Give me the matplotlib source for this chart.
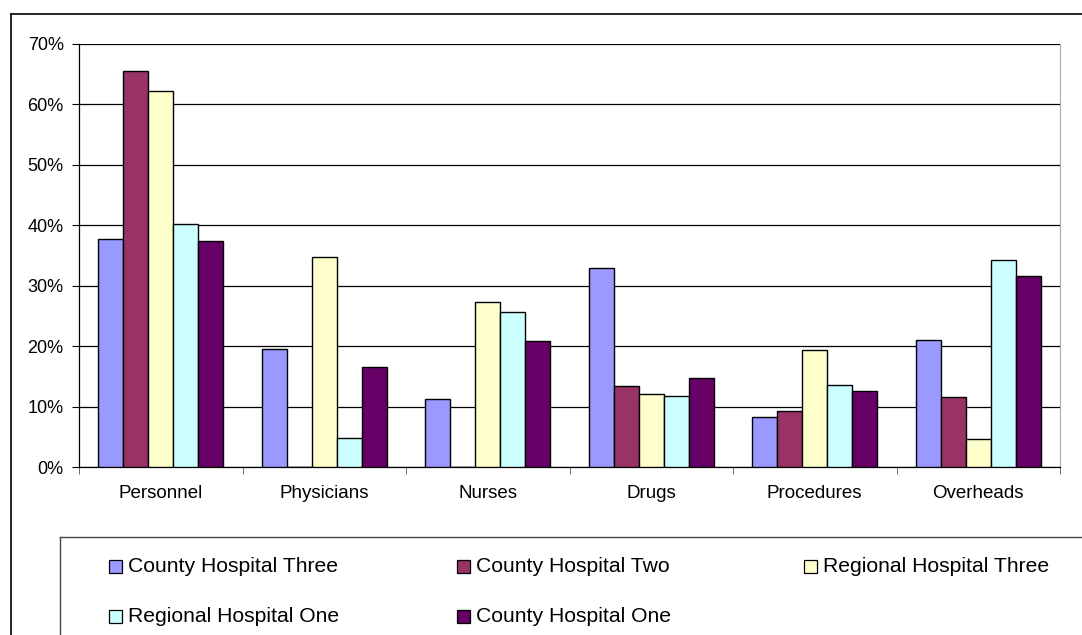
import matplotlib.pyplot as plt
import numpy as np
from matplotlib.patches import Rectangle
from matplotlib.lines import Line2D
from matplotlib.ticker import PercentFormatter

plt.rcParams['font.family'] = ['Liberation Sans', 'DejaVu Sans']

categories = ["Personnel", "Physicians", "Nurses", "Drugs", "Procedures", "Overheads"]
series_names = ["County Hospital Three", "County Hospital Two", "Regional Hospital Three",
                "Regional Hospital One", "County Hospital One"]
county_three = [37.7, 19.5, 11.3, 33.0, 8.3, 21.0]
county_two = [65.6, 0.0, 0.0, 13.4, 9.2, 11.6]
regional_three = [62.3, 34.7, 27.3, 12.0, 19.3, 4.6]
regional_one = [40.2, 4.8, 25.6, 11.7, 13.6, 34.2]
county_one = [37.4, 16.6, 20.8, 14.7, 12.5, 31.6]
series = [county_three, county_two, regional_three, regional_one, county_one]
colors = ["#9999FF", "#993366", "#FFFFCC", "#CCFFFF", "#660066"]

fig = plt.figure(figsize=(10.82, 6.35), dpi=100)
ax = fig.add_axes([79/1082, 1-467/635, (1060-79)/1082, (467-44)/635])

x = np.arange(len(categories))
w = 0.153
for i, (vals, col) in enumerate(zip(series, colors)):
    ax.bar(x + (i-2)*w, vals, width=w, color=col, edgecolor="black", linewidth=1.0, zorder=3)

ax.set_xlim(-0.5, len(categories)-0.5)
ax.set_ylim(0, 70)
ax.set_yticks(np.arange(0, 71, 10))
ax.yaxis.set_major_formatter(PercentFormatter(decimals=0))
ax.yaxis.grid(True, color="black", linewidth=0.9, zorder=0)
ax.set_xticks(x)
ax.set_xticklabels(categories, fontsize=13.5)
ax.set_xticks(np.arange(-0.5, len(categories)), minor=True)
ax.tick_params(axis="x", which="major", length=0, pad=13)
ax.tick_params(axis="x", which="minor", length=5, direction="out", color="#555555")
ax.tick_params(axis="y", length=5, direction="out", labelsize=13, pad=6)
ax.spines["top"].set_visible(False)
ax.spines["right"].set_color("#aaaaaa")
ax.spines["left"].set_linewidth(0.9)
ax.spines["bottom"].set_linewidth(0.9)

# outer chart border and legend box
fig.add_artist(Line2D([11/1082, 11/1082], [0, 1-14/635], color="black", lw=1.2))
fig.add_artist(Line2D([11/1082, 1], [1-14/635, 1-14/635], color="black", lw=1.2))
fig.add_artist(Line2D([60/1082, 60/1082], [0, 1-537/635], color="#444444", lw=1.0))
fig.add_artist(Line2D([60/1082, 1], [1-537/635, 1-537/635], color="#444444", lw=1.0))

# legend entries laid out row by row
col_x = [109, 457, 804]
row_y = [566, 616]
for k, (name, col) in enumerate(zip(series_names, colors)):
    px = col_x[k % 3]
    py = row_y[k // 3]
    fig.add_artist(Rectangle((px/1082, 1-(py+7)/635), 13/1082, 13/635,
                             facecolor=col, edgecolor="black", lw=0.9,
                             transform=fig.transFigure))
    fig.text((px+19)/1082, 1-py/635, name, fontsize=15.2, va="center", ha="left")

fig.savefig("out.png", dpi=100)
